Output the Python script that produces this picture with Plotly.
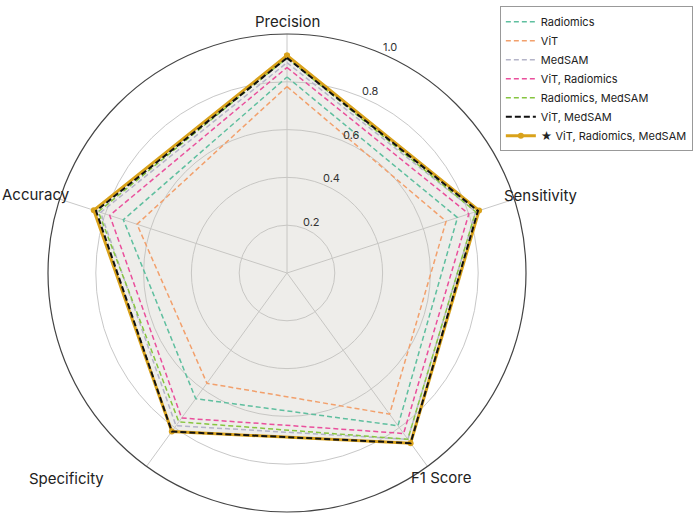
import math
import plotly.graph_objects as go

categories = ["Precision", "Sensitivity", "F1 Score", "Specificity", "Accuracy"]

radiomics = [0.82, 0.75, 0.79, 0.65, 0.72]
vit = [0.78, 0.70, 0.73, 0.57, 0.66]
medsam = [0.88, 0.83, 0.86, 0.79, 0.82]
vit_radiomics = [0.86, 0.80, 0.83, 0.75, 0.78]
radiomics_medsam = [0.90, 0.83, 0.86, 0.77, 0.83]
vit_medsam = [0.90, 0.84, 0.88, 0.82, 0.84]
all_three = [0.91, 0.845, 0.88, 0.82, 0.85]

radial_ticks = [0.2, 0.4, 0.6, 0.8, 1.0]
radial_ticktext = ["0.2", "0.4", "0.6", "0.8", "1.0"]

series = [
    ("Radiomics", radiomics, "#5fbf9f", 1.5, "5px,3px"),
    ("ViT", vit, "#f2a06c", 1.5, "5px,3px"),
    ("MedSAM", medsam, "#b4b4c8", 1.5, "5px,3px"),
    ("ViT, Radiomics", vit_radiomics, "#ea4f9c", 1.5, "5px,3px"),
    ("Radiomics, MedSAM", radiomics_medsam, "#86c540", 1.5, "5px,3px"),
]

def closed(v):
    return list(v) + [v[0]]

cats = closed(categories)
font = "Inter, Noto Sans, sans-serif"

W, H = 700, 518
ML, MR, MT, MB = 46, 172, 30, 6
PW, PH = W - ML - MR, H - MT - MB
CX, CY = ML + PW / 2, MT + PH / 2
R = min(PW, PH) / 2

def px2paper(x, y):
    return (x - ML) / PW, (H - MB - y) / PH

label_pos = {
    "Precision": (287, 17),
    "Sensitivity": (541, 193),
    "F1 Score": (441, 477),
    "Specificity": (66, 478),
    "Accuracy": (36, 192),
}

fig = go.Figure()

fig.add_trace(go.Scatterpolar(
    r=closed(all_three), theta=cats, mode="none", fill="toself",
    fillcolor="rgba(200,195,185,0.30)", showlegend=False, hoverinfo="skip"))

for name, vals, color, w, dash in series:
    fig.add_trace(go.Scatterpolar(
        r=closed(vals), theta=cats, mode="lines", name=name,
        line=dict(color=color, width=w, dash=dash)))

fig.add_trace(go.Scatterpolar(
    r=closed(all_three), theta=cats, mode="lines+markers",
    name="★ ViT, Radiomics, MedSAM",
    line=dict(color="#d9a21b", width=3),
    marker=dict(color="#d9a21b", size=6)))

fig.add_trace(go.Scatterpolar(
    r=closed(vit_medsam), theta=cats, mode="lines", name="ViT, MedSAM",
    line=dict(color="#111111", width=2, dash="6px,3px")))

annotations = []
for c in categories:
    x, y = px2paper(*label_pos[c])
    annotations.append(dict(
        text=c, x=x, y=y, xref="paper", yref="paper",
        xanchor="center", yanchor="middle", showarrow=False,
        font=dict(size=15, color="#222", family=font)))

# radial tick labels, placed along the radial scale at 66 degrees
ang = math.radians(66)
for v, t in zip(radial_ticks, radial_ticktext):
    rp = v * R + 8
    x, y = px2paper(CX + rp * math.cos(ang) + 2, CY - rp * math.sin(ang))
    annotations.append(dict(
        text=t, x=x, y=y, xref="paper", yref="paper",
        xanchor="center", yanchor="middle", showarrow=False,
        font=dict(size=11, color="#333", family=font)))

fig.update_layout(
    width=W, height=H,
    margin=dict(l=ML, r=MR, t=MT, b=MB),
    paper_bgcolor="white",
    font=dict(family=font, color="#222"),
    annotations=annotations,
    polar=dict(
        bgcolor="white",
        domain=dict(x=[0, 1], y=[0, 1]),
        angularaxis=dict(
            rotation=90, direction="clockwise",
            showline=True, linecolor="#444", linewidth=1.2,
            gridcolor="#c8c8c8", gridwidth=1,
            showticklabels=False, ticks="",
        ),
        radialaxis=dict(
            range=[0, 1], tickvals=radial_ticks,
            angle=66, showticklabels=False,
            showline=False, ticks="",
            gridcolor="#c8c8c8", gridwidth=1,
        ),
    ),
    legend=dict(
        x=1.342, y=1.058, xanchor="right", yanchor="top",
        bordercolor="#999", borderwidth=1, bgcolor="white",
        font=dict(size=11, color="#222", family=font),
        traceorder="normal", tracegroupgap=0,
    ),
)

for i, t in enumerate(fig.data):
    t.legendrank = 1000 + i
fig.data[-1].legendrank = 1000 + 5.5

fig.write_html("out.html")
